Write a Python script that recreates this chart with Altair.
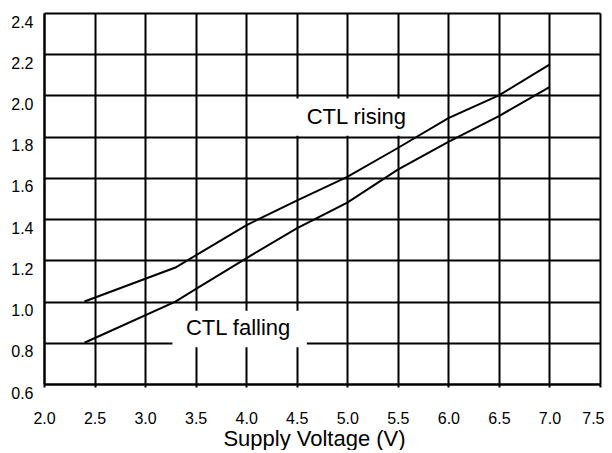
import altair as alt
import pandas as pd

# Curve data (Supply Voltage V, threshold V)
rising_x = [2.4, 3.3, 4.0, 4.5, 5.0, 5.5, 6.0, 6.5, 7.0]
rising_y = [1.00, 1.165, 1.37, 1.49, 1.605, 1.745, 1.89, 2.00, 2.15]
falling_x = [2.4, 3.3, 3.5, 4.0, 4.5, 5.0, 5.5, 6.0, 6.5, 7.0]
falling_y = [0.80, 1.00, 1.06, 1.21, 1.355, 1.48, 1.64, 1.775, 1.90, 2.04]

x_ticks = [2.0, 2.5, 3.0, 3.5, 4.0, 4.5, 5.0, 5.5, 6.0, 6.5, 7.0, 7.5]
y_ticks = [0.6, 0.8, 1.0, 1.2, 1.4, 1.6, 1.8, 2.0, 2.2, 2.4]

label_text = ["CTL rising", "CTL falling"]
label_x = [5.09, 3.92]
label_y = [1.897, 0.870]
box_x = [4.35, 3.27]
box_x2 = [5.75, 4.60]
box_y = [1.985, 0.955]
box_y2 = [1.805, 0.778]

curves = pd.DataFrame(
    {"v": rising_x + falling_x,
     "t": rising_y + falling_y,
     "s": ["rising"] * len(rising_x) + ["falling"] * len(falling_x)}
)
labels = pd.DataFrame({"text": label_text, "x": label_x, "y": label_y,
                       "bx": box_x, "bx2": box_x2, "by": box_y, "by2": box_y2})

xs = alt.Scale(domain=[2.0, 7.5], nice=False, zero=False)
ys = alt.Scale(domain=[0.6, 2.4], nice=False, zero=False)

x_axis = alt.Axis(
    values=x_ticks, format=".1f", title="Supply Voltage (V)",
    grid=True, tickSize=3, labelPadding=23, titlePadding=2,
    labelFlush=False, labelBound=False, labelFontSize=16, titleFontSize=22,
    titleFontWeight="normal", titleX=270, titleAlign="center",
    labelAlign={"condition": {"test": "datum.value >= 7.5", "value": "right"},
                "value": "center"},
    labelOffset={"condition": {"test": "datum.value >= 7.5", "value": 4},
                 "value": 0},
)
y_axis = alt.Axis(values=y_ticks, format=".1f", title=None, grid=True,
                  ticks=False, labelPadding=11, labelOffset=9,
                  labelFlush=False, labelFontSize=16)

boxes = alt.Chart(labels).mark_rect(color="white", opacity=1).encode(
    x=alt.X("bx:Q", scale=xs, axis=x_axis),
    x2="bx2",
    y=alt.Y("by:Q", scale=ys, axis=y_axis),
    y2="by2",
)

lines = alt.Chart(curves).mark_line(color="black", strokeWidth=2).encode(
    x=alt.X("v:Q", scale=xs),
    y=alt.Y("t:Q", scale=ys),
    detail="s:N",
)

texts = alt.Chart(labels).mark_text(fontSize=22, font="Liberation Sans",
                                    color="black", align="center",
                                    baseline="middle").encode(
    x=alt.X("x:Q", scale=xs),
    y=alt.Y("y:Q", scale=ys),
    text="text:N",
)

chart = alt.layer(boxes, lines, texts).properties(
    width=556, height=371,
    autosize="none",
    background="white",
    padding={"left": 36, "top": 5, "right": 4, "bottom": 66},
).configure_axis(
    gridColor="black", gridWidth=2, gridOpacity=1,
    domainColor="black", domainWidth=2,
    tickColor="black", tickWidth=2,
    labelColor="black", titleColor="black",
    labelFont="Liberation Sans", titleFont="Liberation Sans",
).configure_view(strokeWidth=0)

chart.save("out.html", embed_options={"renderer": "svg", "actions": False})
